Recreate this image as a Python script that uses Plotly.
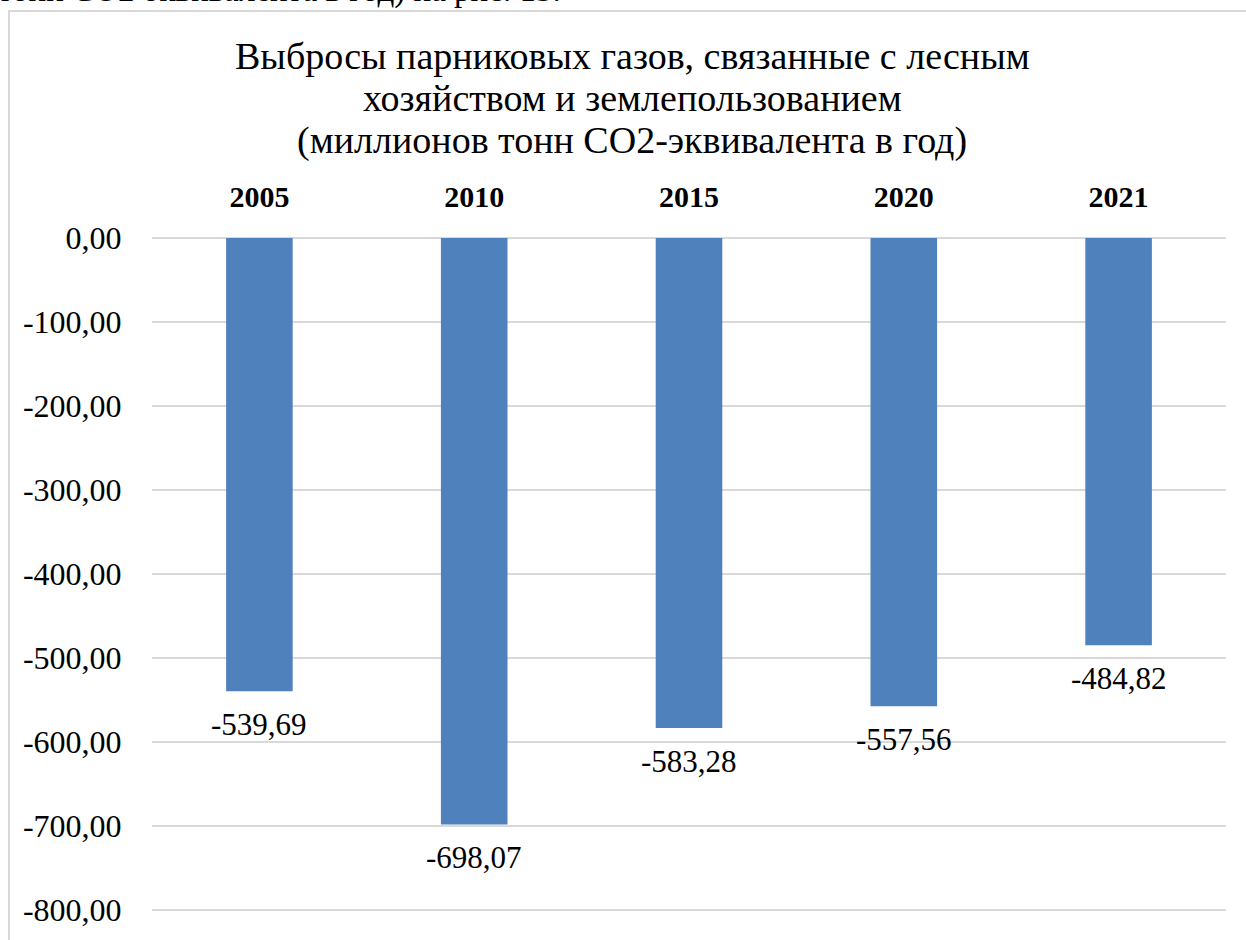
import plotly.graph_objects as go

years = ["2005", "2010", "2015", "2020", "2021"]
values = [-539.69, -698.07, -583.28, -557.56, -484.82]
value_labels = ["-539,69", "-698,07", "-583,28", "-557,56", "-484,82"]
tick_vals = [0, -100, -200, -300, -400, -500, -600, -700, -800]
tick_text = ["0,00", "-100,00", "-200,00", "-300,00", "-400,00", "-500,00", "-600,00", "-700,00", "-800,00"]
title_lines = ["Выбросы парниковых газов, связанные с лесным",
               "хозяйством и землепользованием",
               "(миллионов тонн CO2-эквивалента в год)"]
top_text = "тонн CO2-эквивалента в год) на рис. 13."

FONT = "Liberation Serif, DejaVu Serif"
W, H = 1246, 940
L, R, T, B = 152, 20, 236, 23
pw, ph = W - L - R, H - T - B
YR = [-804.74, 2.37]

def px(x):
    return (x - L) / pw

def py(y):
    return (H - B - y) / ph

fig = go.Figure()
fig.add_trace(go.Bar(
    x=years, y=values,
    marker=dict(color="#4f81bd", line=dict(width=0)),
    width=0.31,
    hoverinfo="skip",
))

annotations = []
for i, (v, lab) in enumerate(zip(values, value_labels)):
    annotations.append(dict(x=i, y=v, xref="x", yref="y", text=lab, showarrow=False,
                            yanchor="top", yshift=-14,
                            font=dict(family=FONT, size=31, color="black")))

title_y = [55, 97, 140]
for t, yy in zip(title_lines, title_y):
    annotations.append(dict(x=px(632), y=py(yy), xref="paper", yref="paper", text=t,
                            showarrow=False, xanchor="center", yanchor="middle",
                            font=dict(family=FONT, size=38, color="black")))

annotations.append(dict(x=px(-4), y=py(-11), xref="paper", yref="paper", text=top_text,
                        showarrow=False, xanchor="left", yanchor="middle",
                        font=dict(family=FONT, size=33, color="black")))

fig.update_layout(
    width=W, height=H,
    margin=dict(l=L, r=R, t=T, b=B),
    paper_bgcolor="white", plot_bgcolor="white",
    showlegend=False,
    annotations=annotations,
    shapes=[dict(type="rect", xref="paper", yref="paper",
                 x0=px(9), x1=px(1260), y0=py(10), y1=py(960),
                 line=dict(color="#d9d9d9", width=2), fillcolor="rgba(0,0,0,0)", layer="below")],
    xaxis=dict(type="category", range=[-0.5, 4.5], side="top", showgrid=False,
               zeroline=False, showline=False,
               ticks="outside", ticklen=16, tickcolor="rgba(0,0,0,0)",
               tickfont=dict(family=FONT, size=30, color="black"),
               tickprefix="<b>", ticksuffix="</b>"),
    yaxis=dict(range=YR, tickvals=tick_vals, ticktext=tick_text,
               showgrid=True, gridcolor="#d9d9d9", gridwidth=2,
               zeroline=False, showline=False,
               ticks="outside", ticklen=23, tickcolor="rgba(0,0,0,0)",
               tickfont=dict(family=FONT, size=32, color="black")),
)

fig.write_html("out.html")
